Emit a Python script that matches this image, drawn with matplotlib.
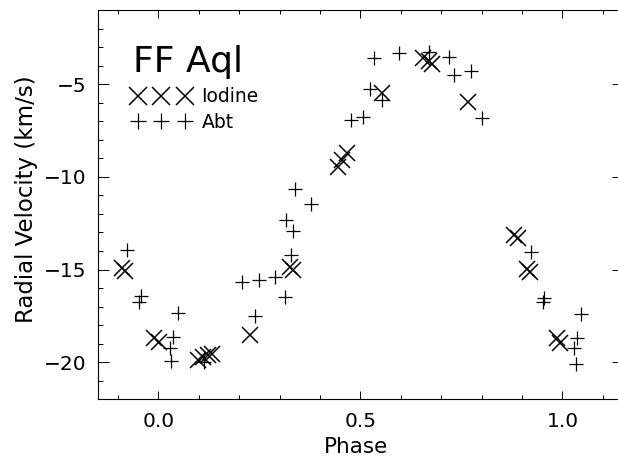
import matplotlib
matplotlib.use("Agg")
import matplotlib.pyplot as plt
from matplotlib.ticker import MultipleLocator

# Iodine measurements (X markers)
iodine_phase = [-0.089, -0.082, -0.011, 0.002, 0.099, 0.111, 0.123, 0.132,
                0.226, 0.325, 0.334, 0.445, 0.455, 0.467, 0.554, 0.655,
                0.671, 0.678, 0.766, 0.881, 0.890, 0.912, 0.919, 0.986, 0.994]
iodine_rv = [-14.93, -15.08, -18.71, -18.92, -19.88, -19.70, -19.60, -19.57,
             -18.53, -14.85, -15.02, -9.45, -9.09, -8.70, -5.49, -3.61,
             -3.73, -3.91, -5.95, -13.14, -13.31, -14.99, -15.12, -18.71, -18.95]

# Abt measurements (+ markers)
abt_phase = [-0.077, -0.043, -0.047, 0.029, 0.032, 0.037, 0.049, 0.1135,
             0.207, 0.239, 0.249, 0.290, 0.313, 0.317, 0.328, 0.334,
             0.338, 0.378, 0.478, 0.507, 0.525, 0.534, 0.554, 0.595,
             0.670, 0.719, 0.731, 0.774, 0.802, 0.9225, 0.954, 0.951,
             1.029, 1.034, 1.036, 1.046]
abt_rv = [-13.94, -16.43, -16.73, -19.25, -19.93, -18.62, -17.36, -19.97,
          -15.65, -17.49, -15.56, -15.38, -16.50, -12.33, -14.21, -12.92,
          -10.67, -11.46, -6.95, -6.79, -5.28, -3.61, -5.85, -3.34,
          -3.25, -3.55, -4.51, -4.27, -6.84, -14.04, -16.52, -16.73,
          -19.24, -20.09, -18.67, -17.41]

title_text = "FF Aql"
x_label = "Phase"
y_label = "Radial Velocity (km/s)"

plt.rcParams['font.family'] = ['DejaVu Sans']

W, H = 618, 458
fig = plt.figure(figsize=(W / 100, H / 100), dpi=100)
ax = fig.add_axes([97.7 / W, (H - 399.3) / H, 525.3 / W, 389.3 / H])

ax.plot(iodine_phase, iodine_rv, linestyle='none', marker='x', ms=12,
        mew=1.1, color='black', label='Iodine')
ax.plot(abt_phase, abt_rv, linestyle='none', marker='+', ms=10.5,
        mew=0.9, color='black', label='Abt')

ax.set_xlim(-0.15, 1.15)
ax.set_ylim(-22, -1)
ax.xaxis.set_major_locator(MultipleLocator(0.5))
ax.xaxis.set_minor_locator(MultipleLocator(0.1))
ax.yaxis.set_major_locator(MultipleLocator(5))
ax.yaxis.set_minor_locator(MultipleLocator(1))
ax.xaxis.set_major_formatter(plt.FuncFormatter(lambda v, p: f"{v:.1f}"))

ax.tick_params(axis='both', which='both', direction='in', top=True,
               right=True, width=0.7, color='black', labelsize=14.5)
ax.tick_params(axis='x', which='major', length=5.6, pad=9)
ax.tick_params(axis='x', which='minor', length=2.8)
ax.tick_params(axis='y', which='major', length=7.8, pad=8)
ax.tick_params(axis='y', which='minor', length=3.6)
for s in ax.spines.values():
    s.set_linewidth(0.8)
    s.set_color('black')

ax.set_xlabel(x_label, fontsize=15.5)
ax.set_ylabel(y_label, fontsize=16.5)
ax.xaxis.set_label_coords(0.492, -0.098)
ax.yaxis.set_label_coords(-0.114, 0.515)

ax.text(0.067, 0.841, title_text, transform=ax.transAxes, fontsize=26,
        va='baseline', ha='left')

leg = ax.legend(loc='upper left', bbox_to_anchor=(0.0655, 0.802),
                frameon=False, numpoints=3, fontsize=13.5, handlelength=3.1,
                handletextpad=0.6, labelspacing=0.36, borderpad=0,
                borderaxespad=0, markerscale=1.12)

fig.savefig("out.png", dpi=100)
